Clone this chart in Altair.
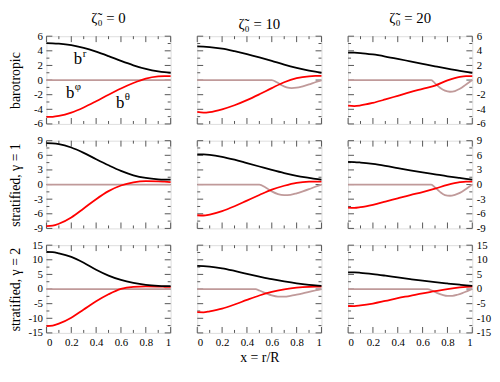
import altair as alt
import pandas as pd

# ---------------- data ----------------
X = [0, 0.05, 0.1, 0.2, 0.3, 0.4, 0.5, 0.6, 0.7, 0.8, 0.9, 0.95, 1.0]

col_titles = ["ζ̃₀ = 0", "ζ̃₀ = 10", "ζ̃₀ = 20"]
row_titles = ["barotropic", "stratified, γ = 1", "stratified, γ = 2"]
row_lim = [6, 9, 15]
row_major = [[-6, -4, -2, 0, 2, 4, 6],
             [-9, -6, -3, 0, 3, 6, 9],
             [-15, -10, -5, 0, 5, 10, 15]]
row_minor = [[-5, -3, -1, 1, 3, 5],
             [-7.5, -4.5, -1.5, 1.5, 4.5, 7.5],
             [-12.5, -7.5, -2.5, 2.5, 7.5, 12.5]]
x_major = [0, 0.2, 0.4, 0.6, 0.8, 1]
x_minor = [0.1, 0.3, 0.5, 0.7, 0.9]

# b^r (black)
br_baro = [[5.05, 5.03, 4.98, 4.78, 4.4, 3.88, 3.27, 2.62, 2.02, 1.52, 1.18, 1.07, 1.0],
           [4.6, 4.58, 4.52, 4.3, 3.95, 3.55, 3.1, 2.62, 2.12, 1.68, 1.3, 1.14, 1.0],
           [3.75, 3.74, 3.7, 3.5, 3.22, 2.9, 2.56, 2.22, 1.88, 1.55, 1.25, 1.12, 1.0]]
br_g1 = [[8.5, 8.45, 8.3, 7.6, 6.5, 5.2, 3.95, 2.8, 1.9, 1.35, 1.08, 1.02, 1.0],
         [6.2, 6.18, 6.1, 5.7, 5.1, 4.4, 3.7, 3.0, 2.35, 1.8, 1.38, 1.18, 1.02],
         [4.65, 4.62, 4.52, 4.22, 3.82, 3.37, 2.92, 2.5, 2.1, 1.7, 1.35, 1.18, 1.02]]
br_g2 = [[12.7, 12.6, 12.2, 11.0, 9.0, 6.6, 4.6, 3.1, 2.1, 1.45, 1.12, 1.03, 1.0],
         [7.9, 7.85, 7.7, 7.1, 6.2, 5.2, 4.25, 3.35, 2.6, 1.95, 1.45, 1.25, 1.1],
         [5.7, 5.68, 5.55, 5.12, 4.57, 3.97, 3.4, 2.85, 2.35, 1.9, 1.47, 1.27, 1.1]]

# b^theta (red)
bt_baro = [[-5.05, -5.02, -4.9, -4.45, -3.75, -2.9, -2.0, -1.15, -0.4, 0.2, 0.5, 0.55, 0.55],
           [-4.35, -4.45, -4.38, -4.0, -3.45, -2.75, -1.95, -1.1, -0.3, 0.25, 0.52, 0.57, 0.57],
           [-3.5, -3.55, -3.47, -3.12, -2.65, -2.15, -1.65, -1.2, -0.75, -0.05, 0.45, 0.55, 0.55]]
bt_g1 = [[-8.55, -8.45, -8.05, -6.75, -4.9, -3.0, -1.35, -0.2, 0.45, 0.7, 0.65, 0.58, 0.5],
         [-6.3, -6.35, -6.15, -5.45, -4.45, -3.3, -2.15, -1.05, -0.25, 0.35, 0.6, 0.62, 0.6],
         [-4.75, -4.8, -4.65, -4.15, -3.5, -2.82, -2.15, -1.55, -0.85, -0.05, 0.5, 0.62, 0.6]]
bt_g2 = [[-12.7, -12.5, -11.85, -9.8, -7.0, -4.2, -1.8, 0.05, 0.75, 0.9, 0.85, 0.78, 0.7],
         [-7.9, -7.95, -7.6, -6.7, -5.3, -3.7, -2.2, -1.0, -0.15, 0.45, 0.75, 0.8, 0.8],
         [-5.8, -5.85, -5.62, -4.95, -4.05, -3.12, -2.3, -1.45, -0.75, 0.0, 0.55, 0.72, 0.8]]

# b^phi (rosy brown)
bp_x_baro = [[0, 1.0],
             [0, 0.6, 0.64, 0.68, 0.72, 0.76, 0.8, 0.85, 0.9, 0.95, 1.0],
             [0, 0.67, 0.7, 0.74, 0.78, 0.82, 0.86, 0.9, 0.95, 1.0]]
bp_y_baro = [[0, 0],
             [0, 0, -0.3, -0.7, -1.0, -1.1, -1.05, -0.85, -0.6, -0.3, -0.05],
             [0, 0, -0.45, -1.05, -1.45, -1.6, -1.5, -1.2, -0.6, 0]]
bp_x_g1 = [[0, 1.0],
           [0, 0.5, 0.55, 0.6, 0.65, 0.7, 0.75, 0.8, 0.85, 0.9, 0.95, 1.0],
           [0, 0.67, 0.7, 0.74, 0.78, 0.82, 0.86, 0.9, 0.95, 1.0]]
bp_y_g1 = [[0, 0],
           [0, 0, -0.6, -1.4, -1.95, -2.15, -2.1, -1.8, -1.4, -0.95, -0.45, 0],
           [0, 0, -0.6, -1.5, -2.15, -2.3, -2.1, -1.7, -0.9, 0]]
bp_x_g2 = [[0, 1.0],
           [0, 0.47, 0.5, 0.55, 0.6, 0.65, 0.7, 0.75, 0.8, 0.85, 0.9, 0.95, 1.0],
           [0, 0.64, 0.68, 0.72, 0.76, 0.8, 0.84, 0.88, 0.92, 0.96, 1.0]]
bp_y_g2 = [[0, 0],
           [0, 0, -0.5, -1.4, -2.2, -2.6, -2.6, -2.35, -1.95, -1.5, -1.0, -0.5, 0],
           [0, 0, -0.6, -1.4, -2.0, -2.35, -2.3, -1.95, -1.4, -0.7, 0]]

BR = [br_baro, br_g1, br_g2]
BT = [bt_baro, bt_g1, bt_g2]
BPX = [bp_x_baro, bp_x_g1, bp_x_g2]
BPY = [bp_y_baro, bp_y_g1, bp_y_g2]

# annotations in first panel
ann_x = [0.22, 0.157, 0.56]
ann_y = [2.13, -2.49, -3.83]
ann_sup = ["r", "φ", "θ"]

# ---------------- style ----------------
W, H = 126, 89
FONT = "Liberation Serif"
FRAME = "#444444"
TICK = "#555555"
MAJ, MIN = 6, 3


def panel(r, c):
    xs = alt.Scale(domain=[0, 1], nice=False, zero=False)
    ys = alt.Scale(domain=[-row_lim[r], row_lim[r]], nice=False, zero=False)

    if r == 2:
        xkw = dict(values=x_major, labelExpr="'' + datum.value", ticks=False, tickSize=0,
                   domain=False, grid=False, labelFont=FONT, labelFontSize=11,
                   labelColor="black", labelPadding=4)
        if c == 1:
            xkw.update(title="x = r/R", titleFont=FONT, titleFontSize=14,
                       titleFontWeight="normal", titleColor="black", titlePadding=3)
            xaxis = alt.Axis(**xkw)
        else:
            xaxis = alt.Axis(title=None, **xkw)
    else:
        xaxis = None

    ykw = dict(values=row_major[r], labelExpr="'' + datum.value", ticks=False, tickSize=0,
               domain=False, grid=False, labelFont=FONT, labelFontSize=11,
               labelColor="black", labelPadding=4)
    if c == 0:
        yaxis = alt.Axis(orient="left", title=row_titles[r], titleFont=FONT,
                         titleFontSize=14, titleFontWeight="normal", titleColor="black",
                         titleAngle=270, titleX=-24, titleY=H / 2, titleAlign="center",
                         titleBaseline="bottom", **ykw)
    elif c == 2:
        yaxis = alt.Axis(orient="right", title=None, **ykw)
    else:
        yaxis = None

    def ex(f):
        return alt.X(f + ":Q", scale=xs, axis=xaxis)

    def ey(f):
        return alt.Y(f + ":Q", scale=ys, axis=yaxis)

    layers = []
    # tick marks (inside)
    for vals, ln in ((x_major, MAJ), (x_minor, MIN)):
        d = pd.DataFrame({"t": vals})
        layers.append(alt.Chart(d).mark_rule(color=TICK, strokeWidth=1).encode(
            x=ex("t"), y=alt.value(0), y2=alt.value(ln)))
        layers.append(alt.Chart(d).mark_rule(color=TICK, strokeWidth=1).encode(
            x=ex("t"), y=alt.value(H), y2=alt.value(H - ln)))
    for vals, ln in ((row_major[r], MAJ), (row_minor[r], MIN)):
        d = pd.DataFrame({"t": vals})
        layers.append(alt.Chart(d).mark_rule(color=TICK, strokeWidth=1).encode(
            y=ey("t"), x=alt.value(0), x2=alt.value(ln)))
        layers.append(alt.Chart(d).mark_rule(color=TICK, strokeWidth=1).encode(
            y=ey("t"), x=alt.value(W), x2=alt.value(W - ln)))

    dphi = pd.DataFrame({"x": BPX[r][c], "y": BPY[r][c]})
    dth = pd.DataFrame({"x": X, "y": BT[r][c]})
    dr = pd.DataFrame({"x": X, "y": BR[r][c]})
    layers.append(alt.Chart(dphi).mark_line(color="#c09a9a", strokeWidth=1.8,
                                            interpolate="monotone").encode(x=ex("x"), y=ey("y")))
    layers.append(alt.Chart(dth).mark_line(color="#ff0000", strokeWidth=1.8,
                                           interpolate="monotone").encode(x=ex("x"), y=ey("y")))
    layers.append(alt.Chart(dr).mark_line(color="#000000", strokeWidth=1.8,
                                          interpolate="monotone").encode(x=ex("x"), y=ey("y")))

    if r == 0 and c == 0:
        da = pd.DataFrame({"x": ann_x, "y": ann_y, "b": ["b"] * 3, "s": ann_sup})
        layers.append(alt.Chart(da).mark_text(font=FONT, fontSize=17, align="left",
                                              baseline="alphabetic", color="black").encode(
            x=ex("x"), y=ey("y"), text="b:N"))
        layers.append(alt.Chart(da).mark_text(font=FONT, fontSize=11, align="left",
                                              baseline="alphabetic", dx=9, dy=-8,
                                              color="black").encode(
            x=ex("x"), y=ey("y"), text="s:N"))

    ch = alt.layer(*layers).properties(width=W, height=H)
    if r == 0:
        ch = ch.properties(title=alt.TitleParams(col_titles[c], font=FONT, fontSize=15,
                                                 fontWeight="normal", color="black",
                                                 offset=4, anchor="middle"))
    return ch


panels = [panel(r, c) for r in range(3) for c in range(3)]

chart = alt.concat(*panels, columns=3, spacing={"row": 17, "column": 27},
                   bounds="flush").properties(padding=0).configure_view(
    stroke=FRAME, strokeWidth=1).configure(background="white")

chart.save("out.html", embed_options={"renderer": "svg", "actions": False})
